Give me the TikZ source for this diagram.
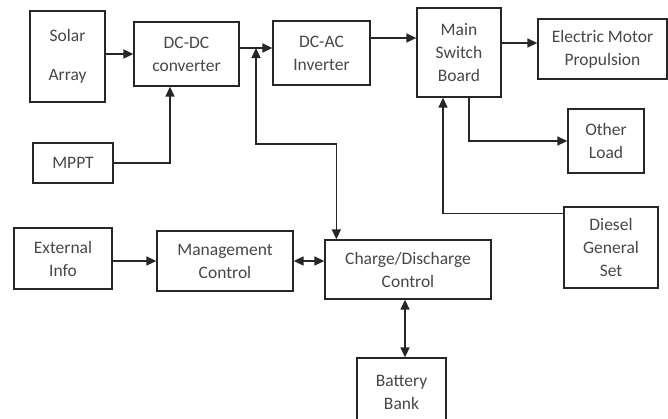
\documentclass[tikz,border=0pt]{standalone}
\usepackage{fontspec}
\setmainfont{Carlito}
\usetikzlibrary{arrows.meta}

\begin{document}
\begin{tikzpicture}[x=1pt, y=-1pt,
		box/.style={draw=black!85, line width=1.3pt, fill=white, align=center,
			inner sep=0pt, text=black!72, font=\fontsize{17.5}{23}\selectfont},
		link/.style={draw=black!85, line width=1.4pt, -{Triangle[length=10pt,width=9pt]}},
		both/.style={link, {Triangle[length=10pt,width=9pt]}-{Triangle[length=10pt,width=9pt]}}]
				\useasboundingbox (0,0) rectangle (668,418);
				%
				\node [box, minimum width=75pt, minimum height=91pt] (solar) at (67.5,56.5) {Solar\\[16pt]Array};
				\node [box, minimum width=105pt, minimum height=64pt] (dcdc) at (186.5,54) {DC-DC\\converter};
				\node [box, minimum width=97pt, minimum height=64pt] (dcac) at (321.5,53) {DC-AC\\Inverter};
				\node [box, minimum width=84pt, minimum height=89pt] (msb) at (459,52.5) {Main\\Switch\\Board};
				\node [box, minimum width=129pt, minimum height=60pt] (emp) at (602.5,49) {Electric Motor\\Propulsion};
				\node [box, minimum width=76pt, minimum height=64pt] (other) at (606,141) {Other\\Load};
				\node [box, minimum width=80pt, minimum height=40pt] (mppt) at (73,163) {MPPT};
				\node [box, minimum width=98pt, minimum height=61pt] (ext) at (63,258.5) {External\\Info};
				\node [box, minimum width=136pt, minimum height=60pt] (mgmt) at (225,261) {Management\\Control};
				\node [box, minimum width=166pt, minimum height=59pt] (cdc) at (408,269.5) {Charge/Discharge\\Control};
				\node [box, minimum width=94pt, minimum height=81pt] (diesel) at (611,247.5) {Diesel\\General\\Set};
				\node [box, minimum width=89pt, minimum height=68pt] (battery) at (401.5,392) {Battery\\Bank};
				%
				\coordinate (jn) at (256,48);
				\coordinate (bend) at (256,144);
				%
				\draw [link] (solar.east |- dcdc.west) -- (dcdc.west);
				\draw [link] ([yshift=6pt]dcdc.east) -- ([yshift=6pt]dcdc.east -| dcac.west);
				\draw [link] ([yshift=15pt]dcac.east) -- ([yshift=15pt]dcac.east -| msb.west);
				\draw [link] ([yshift=9.5pt]msb.east) -- ([yshift=9.5pt]msb.east -| emp.west);
				\draw [link] (mppt.east) -| ([xshift=-16.5pt]dcdc.south);
				\draw [link] ([xshift=10pt]msb.south) |- (other.west);
				\draw [link] ([yshift=-7pt]diesel.north west) -| ([xshift=-16pt]msb.south);
				\draw [link] (ext.east |- mgmt.west) -- (mgmt.west);
				%
				\draw [both] ([xshift=12pt]cdc.north west) |- (bend) -- (jn);
				\draw [both] (mgmt.east) -- (mgmt.east -| cdc.west);
				\draw [both] ([xshift=-3pt]cdc.south) -- ([xshift=-3pt]cdc.south |- battery.north);
		
			\end{tikzpicture}
\end{document}
